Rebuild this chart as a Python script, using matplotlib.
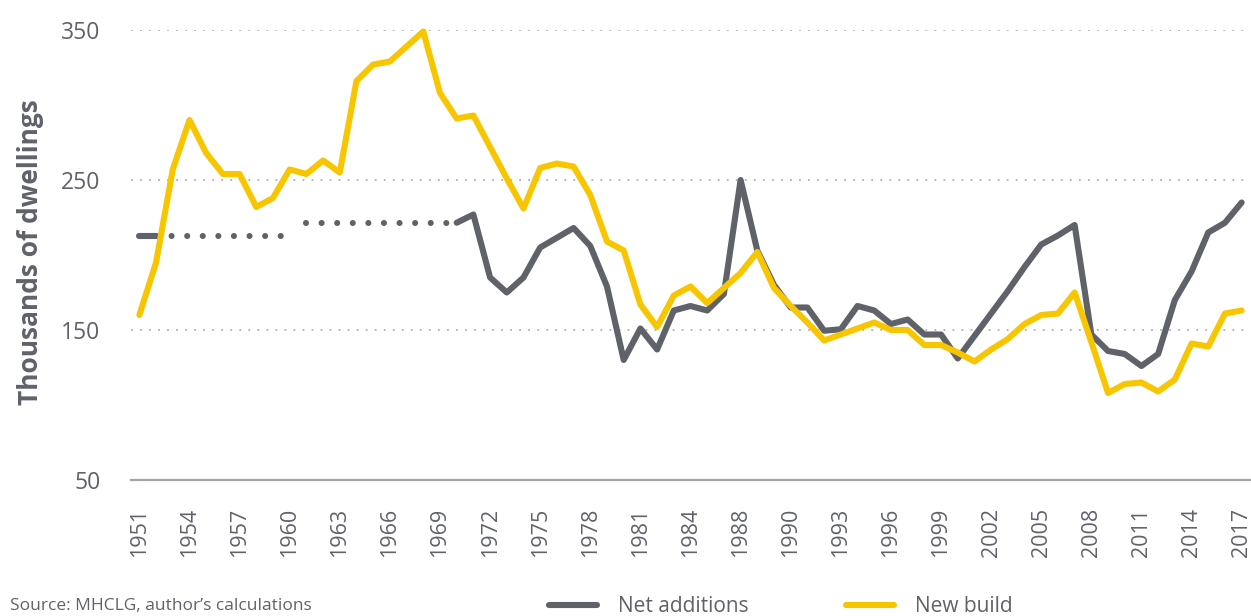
import numpy as np
import matplotlib
matplotlib.use('Agg')
import matplotlib.pyplot as plt

plt.rcParams['font.family'] = ['Open Sans', 'DejaVu Sans']

# categorias (1951-2017) y etiquetas cada 3 años
years = list(range(1951, 2018))
tick_labels = ['1951', '1954', '1957', '1960', '1963', '1966', '1969', '1972', '1975',
               '1978', '1981', '1984', '1988', '1990', '1993', '1996', '1999', '2002',
               '2005', '2008', '2011', '2014', '2017']

# miles de viviendas
new_build = [160, 195, 257, 290, 268, 254, 254, 232, 238, 257,
             254, 263, 255, 316, 327, 329, 339, 349, 308, 291,
             293, 272, 251, 231, 258, 261, 259, 240, 209, 203,
             167, 152, 173, 179, 168, 178, 188, 202, 178, 166,
             155, 143, 147, 151, 155, 150, 150, 140, 140, 135,
             129, 137, 144, 154, 160, 161, 175, 142, 108, 114,
             115, 109, 117, 141, 139, 161, 163]

# promedios por decada 1951-60 y 1961-70, luego datos anuales
net_avg_1950s = 212.5
net_avg_1960s = 221.5
net_additions = [221.5, 227, 185, 175, 185, 205, 211.5, 218, 206, 179,
                 130, 151, 137, 163, 166, 163, 174, 250, 203, 180,
                 165, 165, 149.5, 150.5, 166, 163, 154, 157, 147, 147,
                 131, 146, 161, 176, 192, 207, 213, 220, 147, 136,
                 134, 126, 134, 170, 189, 215, 221.5, 235]

gris = '#5f6269'
amarillo = '#f7c600'
texto = '#5f6269'

fig = plt.figure(figsize=(12.51, 6.16), dpi=100)
ax = fig.add_axes([131 / 1251, 136 / 616, (1250 - 131) / 1251, (480 - 30) / 616])

x = np.arange(len(years))
lw = 4.4

# net additions: tramo solido inicial, promedios punteados, luego serie anual
ax.plot(x[0:2], [net_avg_1950s] * 2, color=gris, lw=lw, solid_capstyle='round', zorder=3)
ax.plot(x[1:10], [net_avg_1950s] * 9, color=gris, lw=lw, linestyle=(0, (0.001, 2.55)),
        dash_capstyle='round', zorder=3)
ax.plot(x[10:20], [net_avg_1960s] * 10, color=gris, lw=lw, linestyle=(0, (0.001, 2.55)),
        dash_capstyle='round', zorder=3)
ax.plot(x[19:], net_additions, color=gris, lw=lw, solid_capstyle='round',
        solid_joinstyle='round', zorder=3, label='Net additions')

ax.plot(x, new_build, color=amarillo, lw=lw, solid_capstyle='round',
        solid_joinstyle='round', zorder=4, clip_on=False, label='New build')

ax.set_xlim(-0.5, len(years) - 0.5)
ax.set_ylim(50, 350)
ax.set_yticks([50, 150, 250, 350])
ax.set_xticks(x[::3])
ax.set_xticklabels(tick_labels, rotation=90)

ax.yaxis.grid(True, color='#b0b0b0', linestyle=(0, (1, 4)), lw=1.3)
ax.set_axisbelow(True)
for s in ['top', 'right', 'left']:
    ax.spines[s].set_visible(False)
ax.spines['bottom'].set_color('#a9a2a2')
ax.spines['bottom'].set_linewidth(1.6)
ax.tick_params(axis='both', length=0, colors=texto)
ax.tick_params(axis='y', pad=22, labelsize=16.5)
ax.tick_params(axis='x', pad=20, labelsize=15.5)

fig.text(31 / 1251, 1 - 252 / 616, 'Thousands of dwellings', rotation=90,
         ha='center', va='center', fontsize=19, fontweight='bold', color=texto)

fig.text(10 / 1251, 1 - 606 / 616, 'Source: MHCLG, author\u2019s calculations',
         ha='left', va='center', fontsize=12.5, color=texto)

leg = fig.legend(loc='center', bbox_to_anchor=(781 / 1251, 1 - 607 / 616), ncol=2,
                 frameon=False, fontsize=15, handlelength=2.3, handletextpad=1.0,
                 columnspacing=4.7, labelcolor=texto)

fig.savefig('out.png', dpi=100)
